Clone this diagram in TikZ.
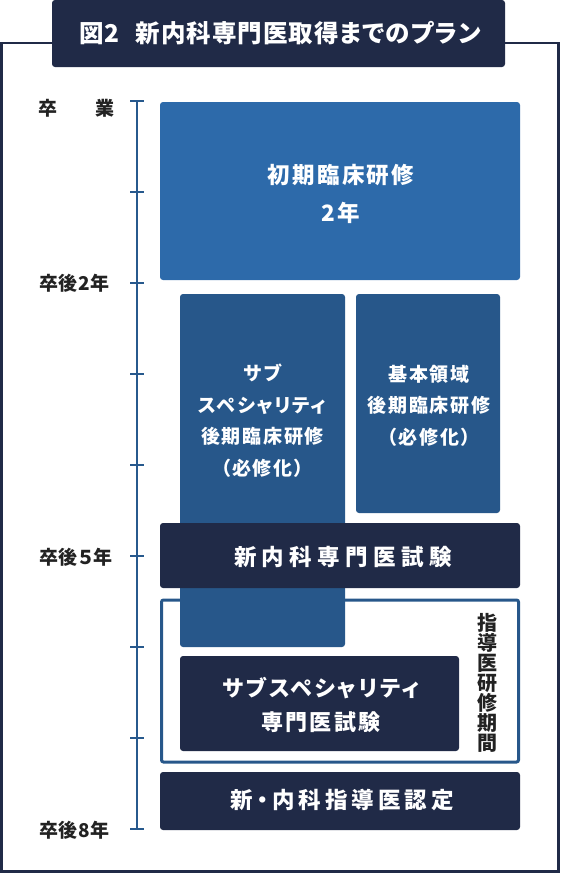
\documentclass[tikz,border=0pt]{standalone}
\usepackage{fontspec}
\setmainfont{Noto Sans CJK JP}[RawFeature=+palt]
\definecolor{navy}{HTML}{202A47}
\definecolor{topblue}{HTML}{2D6AAA}
\definecolor{midblue}{HTML}{27578A}
\definecolor{lineblue}{HTML}{27598D}
\definecolor{labeltext}{HTML}{222222}
\newcommand{\ls}[1]{\addfontfeatures{LetterSpace=#1}}
\begin{document}
\begin{tikzpicture}[x=1pt,y=-1pt,
  panel/.style={rounded corners=3pt},
  wtext/.style={text=white, align=center, inner sep=0pt},
  yearlabel/.style={text=labeltext, anchor=west, inner sep=0pt, font=\fontsize{19}{20}\selectfont\bfseries\ls{3}},
  tick/.style={draw=lineblue, line width=2pt}
]
\useasboundingbox (0,0) rectangle (560,873);
% outer frame
\draw[navy, line width=2.5pt] (1.5,43) rectangle (558.5,871.5);
% title
\fill[navy, panel] (52,0) rectangle (505,67);
\node[wtext, font=\fontsize{24.5}{28}\selectfont\bfseries\ls{4}] (title) at (280,33) {図2\hspace{16pt}新内科専門医取得までのプラン};
% timeline
\coordinate (tl0) at (137,101);
\coordinate (tl8) at (137,829);
\draw[tick] (tl0) -- (tl8);
\foreach \k in {0,...,8}{
  \draw[tick] (130,101+91*\k) -- (144,101+91*\k);
}
\node[yearlabel] (l0) at (38,108) {卒\hspace{38pt}業};
\node[yearlabel] (l2) at (39,283) {卒後2年};
\node[yearlabel] (l5) at (39,557) {卒後５年};
\node[yearlabel] (l8) at (39,830) {卒後8年};
% initial training
\fill[topblue, panel] (160,102) rectangle (520,280);
\node[wtext, font=\fontsize{22.5}{38}\selectfont\bfseries\ls{10}] (init) at (341,194) {初期臨床研修\\2年};
% frame of supervisor training
\draw[midblue, line width=3pt, rounded corners=2pt] (161.5,600) rectangle (518.5,762);
% sub specialty
\fill[midblue, panel] (180,294) rectangle (345,647);
\node[wtext, font=\fontsize{19}{31.5}\selectfont\bfseries\ls{9}] (sub) at (262.5,420.5) {サブ\\スペシャリティ\\後期臨床研修\\（必修化）};
% basic
\fill[midblue, panel] (356,294) rectangle (500,513);
\node[wtext, font=\fontsize{19}{31.5}\selectfont\bfseries\ls{9}] (basic) at (429,405.5) {基本領域\\後期臨床研修\\（必修化）};
% exam
\fill[navy, panel] (160,523) rectangle (520,588);
\node[wtext, font=\fontsize{22.5}{26}\selectfont\bfseries\ls{24}] (exam) at (343,557) {新内科専門医試験};
% sub exam
\fill[navy, panel] (180,656) rectangle (459,751);
\node[wtext, font=\fontsize{22}{34}\selectfont\bfseries\ls{11}] (subexam) at (321,705) {サブスペシャリティ\\専門医試験};
% vertical label
\node[text=labeltext, align=center, inner sep=0pt, font=\fontsize{20}{20}\selectfont\bfseries] (period) at (487.5,682.5) {指\\導\\医\\研\\修\\期\\間};
% certification
\fill[navy, panel] (160,772) rectangle (520,830);
\node[wtext, font=\fontsize{22.5}{26}\selectfont\bfseries\ls{18}] (cert) at (342,800) {新・内科指導医認定};
\end{tikzpicture}
\end{document}
